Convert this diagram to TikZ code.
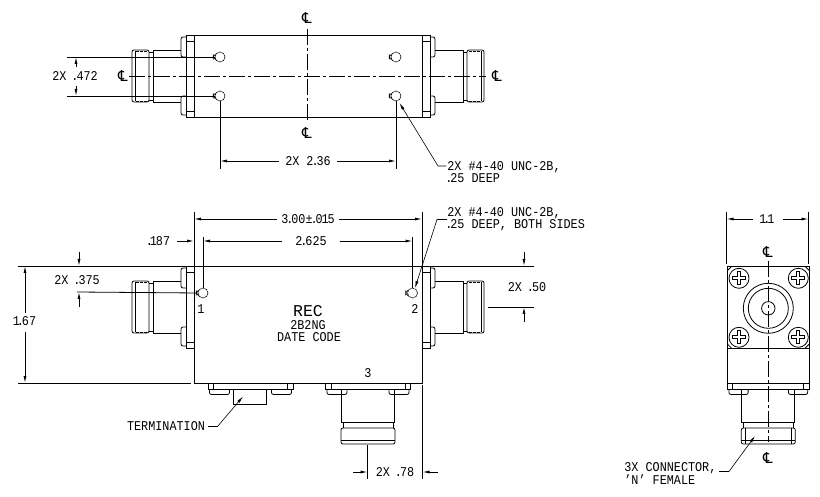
\documentclass[tikz,border=0pt]{standalone}
\usepackage{fontspec}
\setmainfont[FakeStretch=.88]{Liberation Mono}
\newfontfamily\recfont{Liberation Mono}
\newfontfamily\clfont{DejaVu Sans}
\usepackage{tikz}
\usetikzlibrary{arrows.meta}
\newcommand{\clmark}{{\clfont\fontsize{15}{15}\selectfont ℄}}
\newcommand{\nd}{\makebox[3pt]{.}}
\newcommand{\no}{\makebox[5pt]{1}}
\begin{document}
\begin{tikzpicture}[x=1pt,y=-1pt,line width=.8pt,
    >={Latex[length=7pt,width=3pt]},
    txt/.style={font=\fontsize{13.4}{12}\selectfont,inner sep=0},
    ctr/.style={dash pattern=on 16pt off 3pt on 3pt off 3pt,line width=.7pt},
    lead/.style={line width=.6pt},
    hole/.style={circle,draw,inner sep=0,minimum size=10pt,line width=.6pt,dash pattern=on 2.5pt off .6pt},
    screw/.style={circle,draw,inner sep=0,minimum size=20pt}]
  \useasboundingbox (0,0) rectangle (820,497);
  % side connectors of top and front views
  \foreach \yy in {76,307} \foreach \sg in {1,-1} {
    \begin{scope}[shift={(308,\yy)},xscale=\sg]
      \draw (-122,-41) rectangle (-114,41);
      \draw (-122,-35) -- (-114,-35) (-122,35) -- (-114,35);
      \draw[rounded corners=2pt] (-122,-39) -- (-127,-39) -- (-127,-19) -- (-122,-19);
      \draw[rounded corners=2pt] (-122,20) -- (-127,20) -- (-127,39) -- (-122,39);
      \draw (-127,-26) -- (-155,-26) -- (-155,26) -- (-127,26);
      \draw (-155,-24) -- (-159,-24) (-155,24) -- (-159,24);
      \draw[rounded corners=2pt] (-159,-26) -- (-176,-26) -- (-176,26) -- (-159,26) -- cycle;
      \draw (-173,-25) -- (-173,25);
      \draw[dash pattern=on 3pt off 1pt] (-172,-25) -- (-160,-25) (-172,25) -- (-160,25);
    \end{scope}
  }
  % top view
  \draw (194,35) rectangle (422,117);
  \draw[ctr] (129,76) -- (486,76);
  \draw[ctr] (307,29) -- (307,123);
  \node[txt] (clLeft) at (123,76) {\clmark};
  \node[txt] (clRight) at (497,76) {\clmark};
  \node[txt] (clTop) at (307,18) {\clmark};
  \node[txt] (clBot) at (307,133) {\clmark};
  \node[hole] (hA) at (220,57) {};
  \node[hole] (hB) at (220,96) {};
  \node[hole] (hC) at (396,57) {};
  \node[hole] (hD) at (396,96) {};
  \coordinate (extA) at (67,57);
  \coordinate (extB) at (67,96);
  \draw (extA) -- (hA.west);
  \draw (extB) -- (hB.west);
  \node[txt] (dimWide) at (75,76) {2X \nd472};
  \draw[->] (76,67) -- (76,57);
  \draw[->] (76,86) -- (76,96);
  \draw (hB.south) -- (220,169);
  \draw (hD.south) -- (396,169);
  \node[txt] (dimHoles) at (308,161) {2X 2\nd36};
  \draw[->] (279,161) -- (220,161);
  \draw[->] (337,161) -- (396,161);
  \node[txt,align=left,anchor=north west] (noteTop) at (447,161) {2X \#4-40 UNC-2B,\\\nd25 DEEP};
  \coordinate (tipD) at (399.5,103);
  \draw[lead,->] (446,166) -- (438,166) -- (tipD);
  % front view
  \draw (194,266) rectangle (422,383);
  \node[hole] (hOne) at (203,293) {};
  \node[hole] (hTwo) at (412.5,293) {};
  \foreach \hn in {hA,hB,hC,hD,hOne,hTwo}
    \draw[line width=.6pt] ([shift={(-1.5,-2.5)}]\hn.west) -- ([shift={(-1.5,2.5)}]\hn.west)
      ([shift={(1,-3)}]\hn.west) -- ([shift={(-1.5,0)}]\hn.west) -- ([shift={(1,3)}]\hn.west);
  \node[txt] at (201,309) (pOne) {1};
  \node[txt] at (415,309) (pTwo) {2};
  \node[txt] at (368,373) (pThree) {3};
  \node[txt,font=\recfont\fontsize{16.5}{17}\selectfont] (lblRec) at (308,311) {REC};
  \node[txt] (lblPart) at (308,325) {2B2NG};
  \node[txt] (lblDate) at (309,337) {DATE CODE};
  \draw (194,266) -- (194,212);
  \draw (422,266) -- (422,212);
  \node[txt] (dimLen) at (308,219) {3\nd00±\nd0\no5};
  \draw[->] (277,219) -- (194,219);
  \draw[->] (339,219) -- (422,219);
  \draw (hOne.north) -- (203,237);
  \draw (hTwo.north) -- (412.5,237);
  \node[txt] (dimPitch) at (311,241) {2\nd625};
  \draw[->] (282,241) -- (203,241);
  \draw[->] (340,241) -- (412.5,241);
  \node[txt] (dimOff) at (159,241) {\nd\no87};
  \draw[->] (177,241) -- (194,241);
  \draw (18,266) -- (186,266);
  \draw (18,383) -- (191,383);
  \draw (430,266) -- (534,266);
  \node[txt] (dimHt) at (25,321) {\no\nd67};
  \draw[->] (25,313) -- (25,266);
  \draw[->] (25,332) -- (25,383);
  \node[txt] (dimEar) at (77,280) {2X \nd375};
  \draw (77,292) -- (hOne.west);
  \draw[->] (79,252) -- (79,266);
  \draw[->] (79,307) -- (79,292);
  \node[txt] (dimRt) at (527,287) {2X \nd50};
  \draw (488,307) -- (534,307);
  \draw[->] (524,252) -- (524,266);
  \draw[->] (524,322) -- (524,307);
  \node[txt,align=left,anchor=north west] (noteFront) at (447,207) {2X \#4-40 UNC-2B,\\\nd25 DEEP, BOTH SIDES};
  \draw[lead,->] (447,219.5) -- (437,219.5) -- (415,288);
  % bottom connectors
  \foreach \cx/\sx in {250.5/1,368/1,768.3/.96} {
    \begin{scope}[shift={(\cx,383)},xscale=\sx]
      \draw (-42.5,0) rectangle (42.5,6.5);
      \draw (-37,0) -- (-37,6.5) (37,0) -- (37,6.5);
      \draw[rounded corners=2pt] (-41,6.5) -- (-41,11.5) -- (-21,11.5) -- (-21,6.5);
      \draw[rounded corners=2pt] (41,6.5) -- (41,11.5) -- (21,11.5) -- (21,6.5);
    \end{scope}
  }
  \foreach \cx in {368,768.3} {
    \begin{scope}[shift={(\cx,383)}]
      \draw (-26.5,6.5) -- (-26.5,39.5) -- (26.5,39.5) -- (26.5,6.5);
      \draw (-25,39.5) -- (-25,45) (25,39.5) -- (25,45);
      \draw[rounded corners=2pt] (-27,45) rectangle (27,61);
      \draw (-27,57.5) -- (27,57.5);
    \end{scope}
  }
  \draw (745.6,428) -- (745.6,444) (791,428) -- (791,444);
  % termination
  \draw (233,389.5) -- (233,404) -- (266.5,404) -- (266.5,389.5);
  \node[txt] (lblTerm) at (166,426) {TERMINATION};
  \draw[lead,->] (208,426.5) -- (217.5,426.5) -- (243,396.5);
  % length to connector 3
  \draw (367.5,445) -- (367.5,479);
  \draw (422.5,385) -- (422.5,479);
  \node[txt] (dimConn) at (395,472) {2X \nd78};
  \draw[->] (353,472) -- (367.5,472);
  \draw[->] (438,472) -- (422.5,472);
  % side view
  \draw (727.7,266.3) rectangle (809,383);
  \draw (727.7,348.3) -- (809,348.3);
  \draw (727.7,270.3) -- (731.7,266.3) (805,266.3) -- (809,270.3);
  \draw (727.7,344.3) -- (731.7,348.3) (805,348.3) -- (809,344.3);
  \draw (726.5,212) -- (726.5,264);
  \draw (808.5,212) -- (808.5,264);
  \node[txt] (dimWd) at (767,219) {\no\nd\no};
  \draw[->] (753,219) -- (726.5,219);
  \draw[->] (783,219) -- (808.5,219);
  \foreach \sx/\sy in {739/278.3,798.3/278.3,739/337.3,798.3/337.3} {
    \node[screw] at (\sx,\sy) {};
    \draw (\sx-1.5,\sy-6.5) -- (\sx+1.5,\sy-6.5) -- (\sx+1.5,\sy-1.5) -- (\sx+6.5,\sy-1.5) -- (\sx+6.5,\sy+1.5) -- (\sx+1.5,\sy+1.5) -- (\sx+1.5,\sy+6.5) -- (\sx-1.5,\sy+6.5) -- (\sx-1.5,\sy+1.5) -- (\sx-6.5,\sy+1.5) -- (\sx-6.5,\sy-1.5) -- (\sx-1.5,\sy-1.5) -- cycle;
  }
  \draw (768.3,308.3) circle (25) circle (20) circle (6.7);
  \draw[ctr] (768.3,261) -- (768.3,442);
  \node[txt] (clSideA) at (768,252) {\clmark};
  \node[txt] (clSideB) at (768,458) {\clmark};
  \node[txt,align=left,anchor=north west] (noteConn) at (624,462) {3X CONNECTOR,\\'N' FEMALE};
  \draw[lead,->] (719,471.5) -- (729,471.5) -- (755,436);
\end{tikzpicture}
\end{document}
